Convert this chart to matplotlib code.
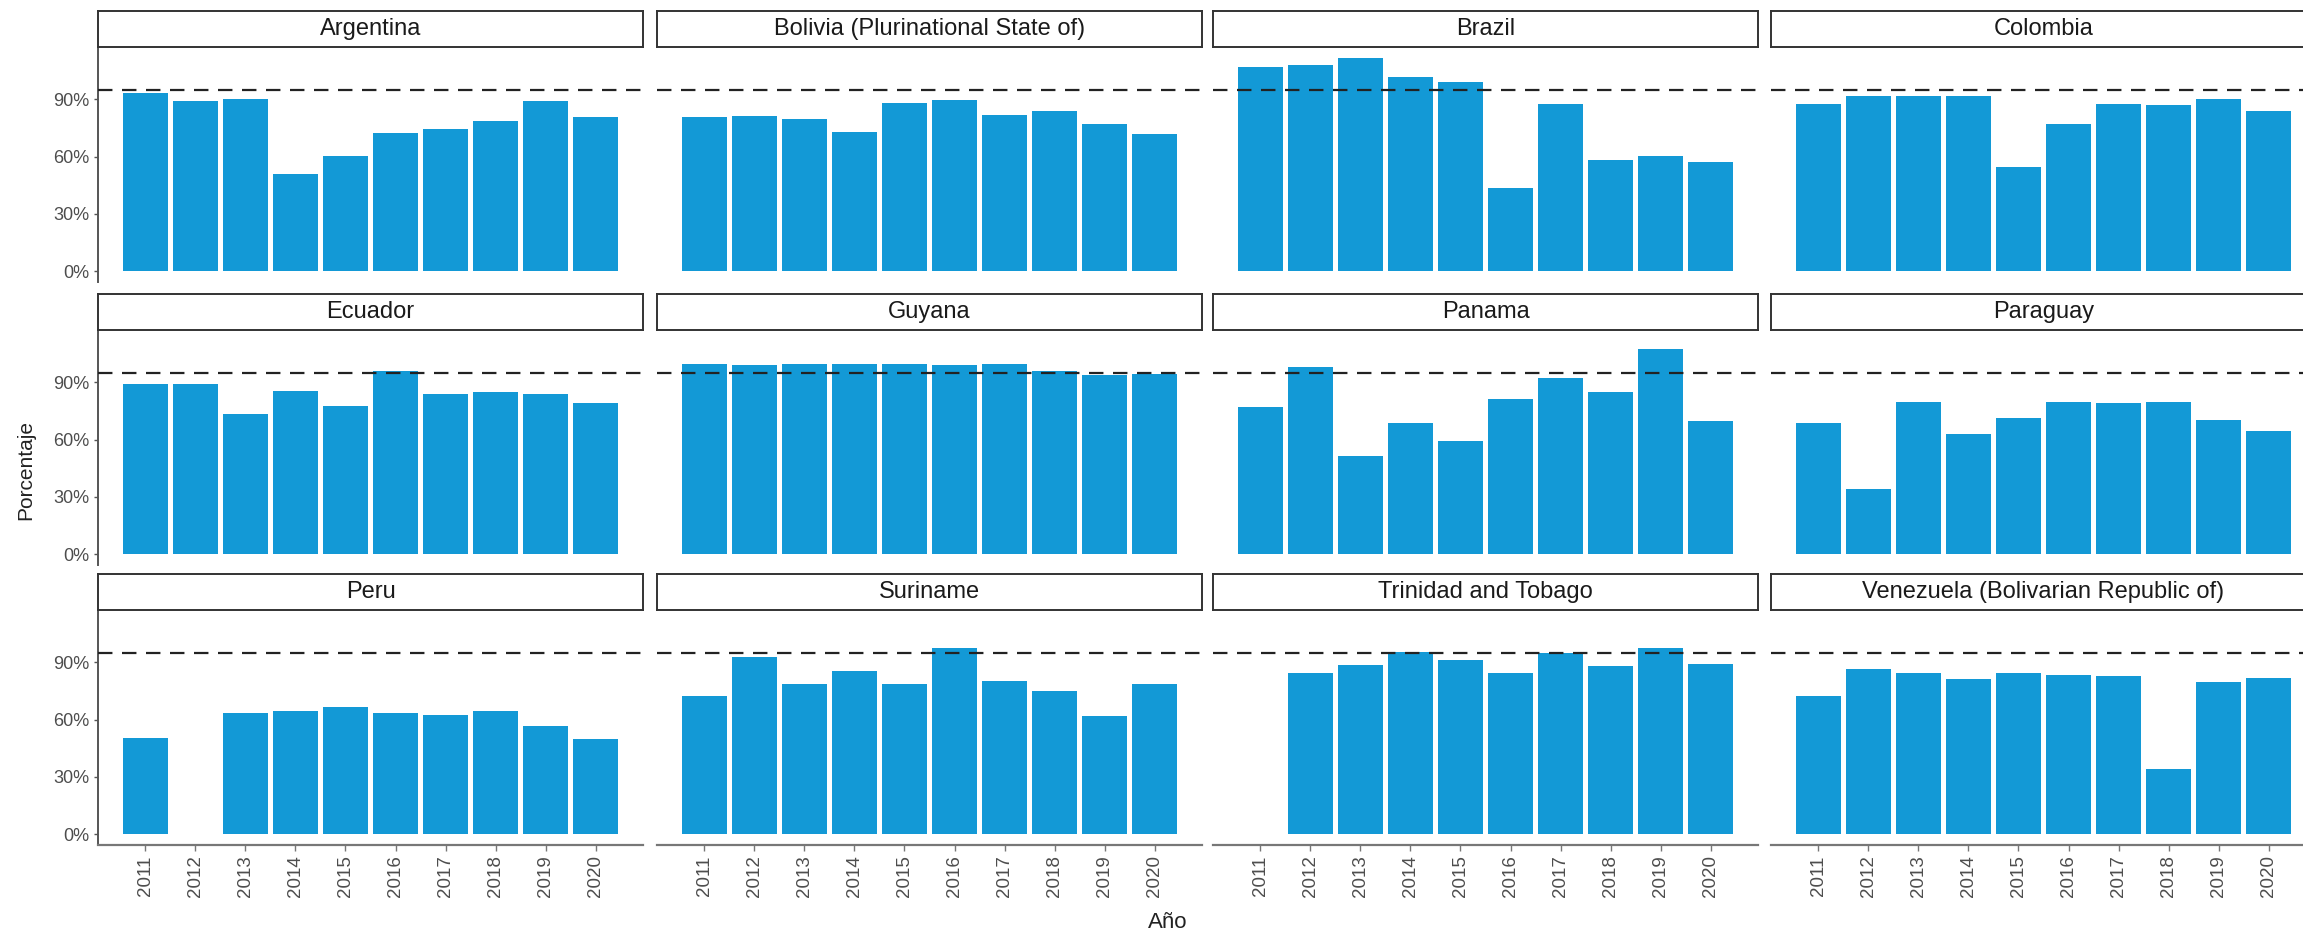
import numpy as np
import matplotlib
matplotlib.use('Agg')
import matplotlib.pyplot as plt

plt.rcParams['font.family'] = ['Liberation Sans', 'DejaVu Sans']

years = [2011, 2012, 2013, 2014, 2015, 2016, 2017, 2018, 2019, 2020]
goal = 95

# coverage per country (%), nan = no data
argentina = [93.4, 89.0, 90.1, 50.8, 60.2, 72.3, 74.4, 78.8, 89.0, 80.7]
bolivia = [80.7, 81.4, 79.8, 73.0, 88.2, 89.4, 81.7, 83.7, 76.9, 71.7]
brazil = [106.8, 108.0, 111.8, 101.6, 99.0, 43.7, 87.5, 58.3, 60.2, 57.2]
colombia = [87.5, 91.5, 91.5, 91.5, 54.4, 76.9, 87.5, 87.0, 90.3, 83.7]
ecuador = [88.9, 88.9, 73.2, 85.6, 77.4, 96.0, 83.9, 85.1, 83.9, 79.3]
guyana = [99.6, 99.1, 99.6, 99.6, 99.6, 99.1, 99.6, 96.0, 94.0, 94.4]
panama = [77.2, 97.9, 51.4, 68.9, 59.1, 81.1, 92.3, 85.1, 107.2, 69.6]
paraguay = [68.9, 34.2, 79.8, 63.2, 71.4, 79.8, 79.3, 79.8, 70.4, 64.6]
peru = [50.5, np.nan, 63.5, 64.6, 66.5, 63.5, 62.6, 64.6, 56.8, 50.0]
suriname = [72.3, 93.0, 78.8, 85.3, 78.8, 97.5, 80.5, 74.9, 62.1, 78.8]
trinidad = [np.nan, 84.6, 88.4, 95.6, 91.1, 84.6, 94.9, 87.9, 97.5, 89.1]
venezuela = [72.3, 86.3, 84.6, 81.4, 84.6, 83.5, 82.6, 34.4, 79.5, 81.9]

countries = ['Argentina', 'Bolivia (Plurinational State of)', 'Brazil', 'Colombia',
             'Ecuador', 'Guyana', 'Panama', 'Paraguay',
             'Peru', 'Suriname', 'Trinidad and Tobago', 'Venezuela (Bolivarian Republic of)']
values = [argentina, bolivia, brazil, colombia, ecuador, guyana, panama, paraguay,
          peru, suriname, trinidad, venezuela]

W, H = 2303, 933
fig = plt.figure(figsize=(W / 100, H / 100), dpi=100)

bar_color = '#1399D6'
tick_color = '#4D4D4D'
axis_color = '#555555'

# layout in pixels
col_left = [98, 657, 1213, 1771]
panel_w = 545
row_top = [47, 330, 610]
panel_h = 235
strip_h = 36

x = np.arange(1, len(years) + 1)
for i, (name, vals) in enumerate(zip(countries, values)):
    r, c = divmod(i, 4)
    x0 = col_left[c] / W
    y0 = (H - row_top[r] - panel_h) / H
    ax = fig.add_axes([x0, y0, panel_w / W, panel_h / H])
    v = np.array(vals, dtype=float)
    ok = ~np.isnan(v)
    ax.bar(x[ok], v[ok], width=0.9, color=bar_color, zorder=2)
    ax.axhline(goal, color='#222222', lw=1.6, linestyle=(0, (6.5, 4.3)), zorder=3)
    ax.set_xlim(0.055, 10.945)
    ax.set_ylim(-5.6, 117.4)

    for s in ['top', 'right']:
        ax.spines[s].set_visible(False)

    if c == 0:
        ax.spines['left'].set_color(axis_color)
        ax.spines['left'].set_linewidth(1.4)
        ax.set_yticks([0, 30, 60, 90])
        ax.set_yticklabels(['0%', '30%', '60%', '90%'])
        ax.tick_params(axis='y', colors=axis_color, labelcolor=tick_color,
                       labelsize=13, length=3, width=1)
    else:
        ax.spines['left'].set_visible(False)
        ax.set_yticks([])

    if r == 2:
        ax.spines['bottom'].set_color('#777777')
        ax.spines['bottom'].set_linewidth(1.6)
        ax.set_xticks(x)
        ax.set_xticklabels([str(yv) for yv in years], rotation=90)
        ax.tick_params(axis='x', colors='#777777', labelcolor=tick_color,
                       labelsize=13.5, length=4, width=1)
    else:
        ax.spines['bottom'].set_visible(False)
        ax.set_xticks([])

    # facet strip
    sax = fig.add_axes([x0, (H - row_top[r]) / H, panel_w / W, strip_h / H])
    sax.set_xticks([])
    sax.set_yticks([])
    for s in sax.spines.values():
        s.set_color('#333333')
        s.set_linewidth(1.4)
    sax.text(0.5, 0.5, name, ha='center', va='center', fontsize=17,
             color='#1A1A1A', transform=sax.transAxes)

fig.text(1168 / W, 1 - 922 / H, 'Año', ha='center', va='center', fontsize=16, color='#222222')
fig.text(26 / W, 1 - 470 / H, 'Porcentaje', ha='center', va='center', rotation=90,
         fontsize=15, color='#222222')

fig.savefig('out.png', dpi=100)
